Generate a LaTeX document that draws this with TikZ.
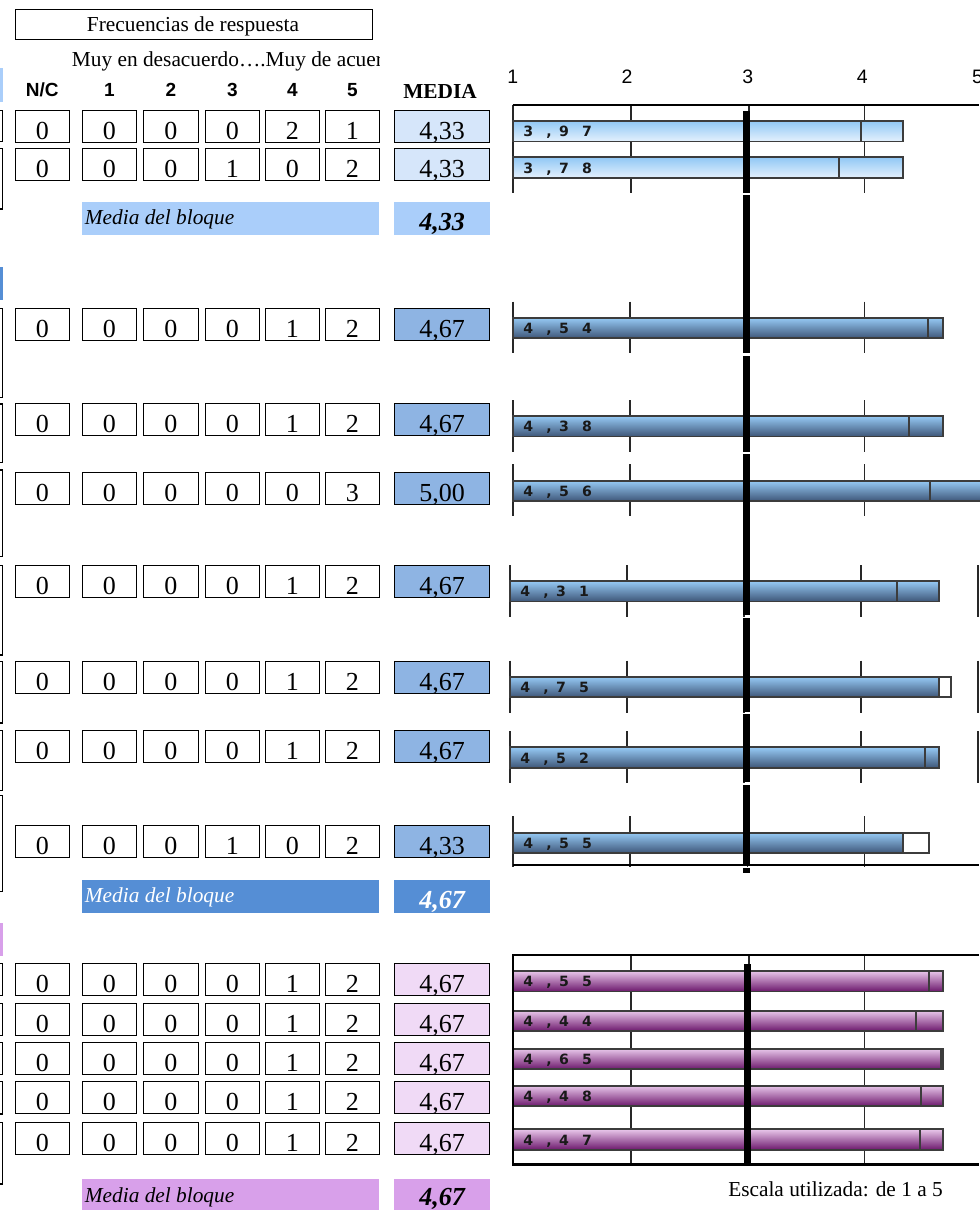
\documentclass[tikz,border=0pt]{standalone}
\usepackage{fontspec}
\setmainfont{Liberation Serif}
\newfontfamily\arialf{Liberation Sans}
\newfontfamily\dejab{DejaVu Sans}
\definecolor{bOneCell}{RGB}{214,230,250}
\definecolor{bOneBand}{RGB}{170,206,250}
\definecolor{bTwoCell}{RGB}{142,180,227}
\definecolor{bTwoBand}{RGB}{85,142,213}
\definecolor{bThrCell}{RGB}{240,218,246}
\definecolor{bThrBand}{RGB}{216,160,234}
\definecolor{baredgecol}{RGB}{60,60,60}
\definecolor{tickcol}{RGB}{40,40,40}
\tikzset{
  cellline/.style={draw=black,line width=1pt},
  celltext/.style={inner sep=0pt,font=\fontsize{19.5}{21}\selectfont},
  hdr/.style={inner sep=0pt,font=\arialf\bfseries\fontsize{14.25}{16}\selectfont},
  axlab/.style={inner sep=0pt,font=\arialf\fontsize{14.6}{16}\selectfont},
  bandtext/.style={inner sep=0pt,font=\itshape\fontsize{16}{18}\selectfont},
  bandval/.style={inner sep=0pt,font=\bfseries\itshape\fontsize{19.5}{21}\selectfont},
  barlab/.style={inner sep=0pt,text=black!90,font=\dejab\bfseries\fontsize{10.6}{12}\selectfont},
  baredge/.style={draw=baredgecol,line width=1.4pt},
  gridtick/.style={draw=tickcol,line width=1.1pt},
  axisline/.style={draw=black,line width=2pt},
  refline/.style={draw=black,line width=5.25pt},
  shOne/.style={top color={rgb,255:red,145;green,200;blue,245},bottom color={rgb,255:red,228;green,241;blue,253}},
  shTwo/.style={top color={rgb,255:red,150;green,202;blue,245},middle color={rgb,255:red,118;green,162;blue,212},bottom color={rgb,255:red,62;green,86;blue,120}},
  shThree/.style={top color={rgb,255:red,232;green,198;blue,234},middle color={rgb,255:red,186;green,128;blue,192},bottom color={rgb,255:red,108;green,24;blue,108}},
}
\newcommand\tabrow[5]{%
  \foreach \vv [count=\ii from 0] in {#3} {%
    \pgfmathsetmacro\cxl{{15.3,82.3,143.3,205.3,265.3,325.3}[\ii]}%
    \pgfmathsetmacro\cxr{{69.3,136.3,198.3,259.3,319.3,379.3}[\ii]}%
    \draw[cellline] (\cxl,#2) rectangle (\cxr,#2+32);
    \node[celltext,anchor=base] (#1c\ii) at ({(\cxl+\cxr)/2},#2+29) {\vv};
  }
  \draw[cellline,fill=#5] (394.3,#2) rectangle (489.7,#2+32);
  \node[celltext,anchor=base] (#1m) at (442,#2+29) {#4};
}
\newcommand\mybar[9]{%
  \pgfmathsetmacro\bxm{#1+(#4-1)*\uu}%
  \pgfmathsetmacro\bxl{#1+(#3-1)*\uu}%
  \shade[#5] (#1,#2) rectangle (\bxm,#2+20.5);
  \draw[baredge] (#1,#2) rectangle (\bxm,#2+20.5);
  \draw[baredge] (#1,#2) rectangle (\bxl,#2+20.5);
  \node[barlab,anchor=base west] (#9) at (#1+10,#2+15.8) {#6\hspace{10pt},\hspace{5.5pt}#7\hspace{9.8pt}#8};
}
\newcommand\bticks[4]{%
  \foreach \kk in {0,1,2,3} {\draw[gridtick] (#1+\kk*\uu,#2) -- (#1+\kk*\uu,#3);}
  \ifnum#4=1 \draw[gridtick] (#1+4*\uu,#2) -- (#1+4*\uu,#3);\fi
}
\begin{document}
\begin{tikzpicture}[x=0.75pt,y=-0.75pt]
\useasboundingbox (0,0) rectangle (979,1210);
% ---------- header ----------
\draw[line width=1pt] (15.3,9.3) rectangle (372.3,39.3);
\node[anchor=base,inner sep=0pt,font=\fontsize{16}{18}\selectfont] (title) at (193,31.7) {Frecuencias de respuesta};
\begin{scope}
  \clip (0,40) rectangle (379,75);
  \node[anchor=base west,inner sep=0pt,font=\fontsize{16}{18}\selectfont] (scaletxt) at (71.7,66.7) {Muy en desacuerdo….Muy de acuerdo};
\end{scope}
\node[hdr,anchor=base] (hNC) at (42.3,96.7) {N/C};
\node[hdr,anchor=base] (hOne) at (109.3,96.7) {1};
\node[hdr,anchor=base] (hTwo) at (170.8,96.7) {2};
\node[hdr,anchor=base] (hThree) at (232.3,96.7) {3};
\node[hdr,anchor=base] (hFour) at (292.3,96.7) {4};
\node[hdr,anchor=base] (hFive) at (352.3,96.7) {5};
\node[anchor=base,inner sep=0pt,font=\bfseries\fontsize{16}{18}\selectfont] (hMedia) at (440,98.3) {MEDIA};
% ---------- left fragments ----------
\fill[bOneBand] (0,68) rectangle (3,101.7);
\fill[bTwoBand] (0,266.7) rectangle (3,300);
\fill[bThrBand] (0,923) rectangle (3,955.7);
\foreach \ta/\tb in {110.7/141.7,148.3/209,308.3/397.7,404/462.7,470/556.7,565.3/655,661.3/723,730.7/790.7,795.7/891.7,963.3/995.3,1003.3/1035.3,1042.3/1074.3,1081.7/1114,1122.3/1184}
  \draw[line width=1pt] (0,\ta) -- (2.6,\ta) -- (2.6,\tb) -- (0,\tb);
% ---------- table block 1 ----------
\tabrow{ra}{110.3}{0,0,0,0,2,1}{4,33}{bOneCell}
\tabrow{rb}{148.3}{0,0,0,1,0,2}{4,33}{bOneCell}
\fill[bOneBand] (82.3,202) rectangle (379.3,234.7);
\fill[bOneBand] (394.3,202) rectangle (489.7,234.7);
\node[bandtext,anchor=base west] (bandOneT) at (84.7,224.5) {Media del bloque};
\node[bandval,anchor=base] (bandOneV) at (442,230) {4,33};
% ---------- table block 2 ----------
\tabrow{rc}{308.3}{0,0,0,0,1,2}{4,67}{bTwoCell}
\tabrow{rd}{403.7}{0,0,0,0,1,2}{4,67}{bTwoCell}
\tabrow{re}{472.3}{0,0,0,0,0,3}{5,00}{bTwoCell}
\tabrow{rf}{565.3}{0,0,0,0,1,2}{4,67}{bTwoCell}
\tabrow{rg}{661.3}{0,0,0,0,1,2}{4,67}{bTwoCell}
\tabrow{rh}{730.7}{0,0,0,0,1,2}{4,67}{bTwoCell}
\tabrow{ri}{825.3}{0,0,0,1,0,2}{4,33}{bTwoCell}
\fill[bTwoBand] (82.3,880) rectangle (379.3,912.7);
\fill[bTwoBand] (394.3,880) rectangle (489.7,912.7);
\node[bandtext,anchor=base west,text=white] (bandTwoT) at (84.7,902.7) {Media del bloque};
\node[bandval,anchor=base,text=white] (bandTwoV) at (442,908.3) {4,67};
% ---------- table block 3 ----------
\tabrow{rj}{963.3}{0,0,0,0,1,2}{4,67}{bThrCell}
\tabrow{rk}{1003.3}{0,0,0,0,1,2}{4,67}{bThrCell}
\tabrow{rl}{1042.3}{0,0,0,0,1,2}{4,67}{bThrCell}
\tabrow{rm}{1081.7}{0,0,0,0,1,2}{4,67}{bThrCell}
\tabrow{rn}{1122.3}{0,0,0,0,1,2}{4,67}{bThrCell}
\fill[bThrBand] (82.3,1179) rectangle (379.3,1209.7);
\fill[bThrBand] (394.3,1179) rectangle (489.7,1209.7);
\node[bandtext,anchor=base west] (bandThrT) at (84.7,1202.3) {Media del bloque};
\node[bandval,anchor=base] (bandThrV) at (442,1205) {4,67};
% ---------- chart axis labels ----------
\node[axlab,anchor=base] (axOne) at (512.7,83.3) {1};
\node[axlab,anchor=base] (axTwo) at (627,83.3) {2};
\node[axlab,anchor=base] (axThree) at (747.7,83.3) {3};
\node[axlab,anchor=base] (axFour) at (862.3,83.3) {4};
\node[axlab,anchor=base] (axFive) at (977.5,83.3) {5};
% ---------- chart 1 ----------
\def\uu{117.2}
\foreach \gx in {513,631.2,749,864.6} \draw[gridtick] (\gx,105) -- (\gx,193);
\draw[axisline] (512.7,105) -- (979,105);
\mybar{513}{121}{3.97}{4.33}{shOne}{3}{9}{7}{barA}
\mybar{513}{157.3}{3.78}{4.33}{shOne}{3}{7}{8}{barB}
% ---------- chart 2 ----------
\bticks{513}{301.7}{353.3}{0}
\bticks{513}{400}{451.7}{0}
\bticks{513}{464.3}{516}{0}
\bticks{513}{816}{866.7}{0}
\mybar{513}{317.7}{4.54}{4.67}{shTwo}{4}{5}{4}{barC}
\mybar{513}{416}{4.38}{4.67}{shTwo}{4}{3}{8}{barD}
\mybar{513}{480.7}{4.56}{5.00}{shTwo}{4}{5}{6}{barE}
\mybar{513}{832.7}{4.55}{4.33}{shTwo}{4}{5}{5}{barI}
\def\uu{117}
\bticks{510}{565}{616.7}{1}
\bticks{510}{660.7}{713}{1}
\bticks{510}{731}{783}{1}
\mybar{510}{581}{4.31}{4.67}{shTwo}{4}{3}{1}{barF}
\mybar{510}{676.7}{4.77}{4.67}{shTwo}{4}{7}{5}{barG}
\mybar{510}{747.3}{4.55}{4.67}{shTwo}{4}{5}{2}{barH}
\def\uu{117.2}
\draw[axisline] (512.7,865) -- (979,865);
\foreach \ra/\rb in {111/192.7,195/353,356/452,454/615,618.3/711.7,714.3/781.7,785/865,868/873}
  \draw[refline] (746.5,\ra) -- (746.5,\rb);
% ---------- chart 3 ----------
\foreach \gx in {631.2,749,864.4} \draw[gridtick] (\gx,955) -- (\gx,1164.3);
\mybar{513}{971}{4.55}{4.67}{shThree}{4}{5}{5}{barJ}
\mybar{513}{1010.7}{4.44}{4.67}{shThree}{4}{4}{4}{barK}
\mybar{513}{1048.7}{4.65}{4.67}{shThree}{4}{6}{5}{barL}
\mybar{513}{1085.7}{4.48}{4.67}{shThree}{4}{4}{8}{barM}
\mybar{513}{1129.3}{4.47}{4.67}{shThree}{4}{4}{7}{barN}
\draw[refline] (747,964) -- (747,1164.3);
\draw[axisline] (979,955) -- (513,955) -- (513,1164.3) -- (979,1164.3);
\node[anchor=base west,inner sep=0pt,font=\fontsize{16}{18}\selectfont] (escala) at (728,1196.7) {Escala utilizada: de 1 a 5};
\end{tikzpicture}
\end{document}
